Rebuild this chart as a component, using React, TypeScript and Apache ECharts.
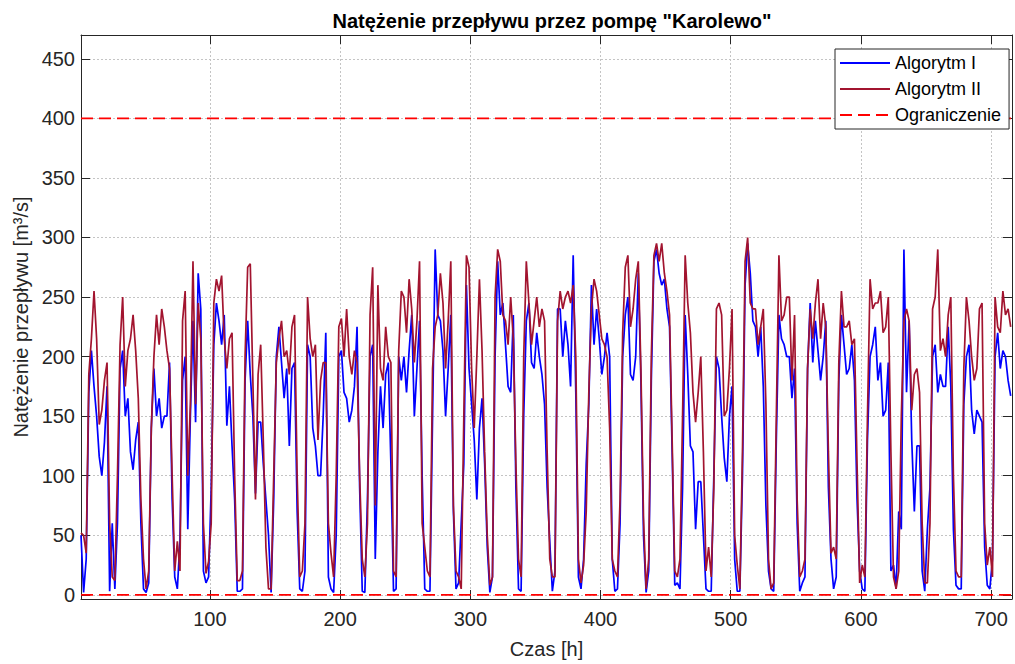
import React, { useEffect, useRef } from 'react';
import * as echarts from 'echarts';

const TITLE = 'Natężenie przepływu przez pompę "Karolewo"';
const X_NAME = 'Czas [h]';
const Y_NAME = 'Natężenie przepływu [m³/s]';
const SERIES_NAMES = ['Algorytm I', 'Algorytm II', 'Ograniczenie'];
const LIMIT_LEVELS = [400, 0];
const X_MIN = 1;
const X_MAX = 716;
const Y_MIN = -3.5;
const Y_MAX = 470;
const X_TICK_STEP = 100;
const Y_TICK_STEP = 50;
// time index of the samples: hour 1, 3, 5, ... 715
const HOUR_START = 1;
const HOUR_STEP = 2;

// Algorytm I [m3/s], read every 2 h
const algorytm1 = [
  50, 2, 30, 170, 205, 175, 150, 116, 100, 128, 175, 3, 60, 5, 60, 190, 205, 150, 165, 120, 105, 130, 145, 60, 5, 2, 10, 140, 190, 150, 165, 140, 150, 150, 195, 80, 15, 5, 45, 180, 200, 55, 150, 230, 145, 270, 240,
  20, 10, 15, 90, 210, 245, 230, 210, 235, 142, 175, 125, 80, 3, 3, 5, 180, 230, 185, 150, 85, 145, 145, 110, 80, 50, 2, 80, 200, 225, 195, 165, 190, 125, 190, 195, 70, 5, 3, 20, 210, 200, 140, 125,
  100, 100, 150, 220, 15, 5, 2, 50, 200, 205, 170, 165, 145, 155, 175, 225, 90, 3, 2, 80, 200, 210, 30, 120, 175, 140, 185, 195, 110, 3, 5, 200, 180, 200, 170, 205, 235, 150, 190, 230, 100, 5, 3, 3, 150, 290,
  235, 230, 205, 150, 190, 235, 70, 5, 10, 60, 110, 260, 190, 160, 130, 80, 140, 165, 110, 40, 2, 15, 200, 280, 235, 245, 210, 175, 170, 235, 90, 5, 3, 150, 230, 245, 195, 190, 220, 200, 185, 160, 90, 45, 3,
  20, 240, 240, 200, 230, 210, 175, 285, 170, 15, 5, 30, 110, 160, 260, 210, 240, 215, 185, 200, 220, 200, 30, 3, 5, 60, 200, 235, 250, 185, 180, 200, 270, 180, 50, 2, 20, 180, 280, 290, 270, 260, 265, 240, 225,
  120, 8, 10, 5, 90, 235, 185, 125, 120, 55, 95, 95, 50, 5, 3, 3, 100, 200, 190, 150, 115, 95, 150, 175, 30, 3, 3, 100, 260, 295, 270, 230, 225, 200, 225, 175, 75, 20, 5, 3, 130, 235, 215, 210, 200,
  200, 165, 190, 60, 3, 10, 15, 190, 245, 195, 230, 205, 180, 200, 230, 90, 30, 5, 15, 180, 235, 210, 185, 190, 210, 180, 80, 20, 5, 3, 130, 200, 210, 225, 180, 195, 150, 155, 195, 20, 25, 5, 70, 55, 290,
  170, 230, 130, 70, 125, 125, 20, 3, 55, 90, 200, 210, 170, 185, 175, 175, 225, 175, 55, 8, 5, 5, 160, 200, 210, 155, 135, 155, 150, 145, 40, 8, 5, 30, 200, 220, 190, 205, 200, 180, 167,
];

// Algorytm II [m3/s], read every 2 h
const algorytm2 = [
  52, 50, 35, 185, 215, 255, 215, 143, 155, 180, 195, 60, 15, 12, 100, 210, 250, 175, 205, 215, 235, 205, 165, 80, 30, 5, 20, 140, 200, 235, 210, 240, 225, 205, 190, 100, 20, 45, 20, 230, 255, 100, 160, 280, 160, 245, 215,
  60, 18, 28, 60, 245, 265, 255, 268, 215, 190, 215, 220, 100, 12, 12, 20, 200, 275, 278, 180, 80, 185, 210, 130, 40, 5, 5, 100, 195, 215, 230, 200, 205, 185, 225, 235, 100, 15, 20, 60, 250, 215, 200, 210,
  130, 180, 195, 195, 60, 35, 15, 100, 225, 232, 200, 240, 200, 185, 205, 195, 100, 30, 15, 60, 235, 275, 75, 260, 190, 180, 225, 200, 195, 20, 15, 205, 255, 250, 220, 265, 240, 195, 230, 280, 60, 40, 20, 15, 190, 225,
  235, 270, 245, 190, 230, 280, 75, 20, 15, 5, 150, 285, 275, 190, 140, 200, 265, 205, 120, 50, 8, 15, 250, 290, 280, 235, 230, 210, 250, 215, 110, 30, 15, 200, 280, 245, 210, 230, 250, 225, 240, 230, 120, 30, 15,
  15, 230, 255, 240, 250, 255, 245, 260, 200, 30, 10, 25, 70, 170, 240, 265, 255, 235, 215, 210, 200, 140, 30, 20, 15, 80, 220, 275, 285, 225, 240, 265, 280, 190, 65, 5, 30, 200, 285, 295, 280, 295, 270, 255, 235,
  130, 20, 15, 30, 150, 285, 245, 220, 170, 145, 170, 200, 120, 20, 40, 15, 90, 240, 245, 235, 150, 155, 190, 240, 50, 25, 5, 120, 280, 300, 245, 240, 240, 210, 225, 240, 160, 30, 5, 10, 150, 285, 230, 235, 250,
  250, 180, 235, 80, 15, 20, 30, 190, 240, 215, 245, 265, 215, 245, 225, 120, 35, 40, 30, 195, 255, 225, 225, 230, 210, 215, 110, 10, 25, 15, 150, 265, 240, 245, 245, 255, 220, 225, 250, 120, 15, 5, 20, 150, 230,
  240, 230, 155, 185, 190, 170, 60, 10, 10, 60, 240, 250, 290, 205, 215, 200, 235, 250, 100, 20, 15, 15, 190, 250, 230, 200, 180, 190, 240, 245, 60, 25, 40, 15, 250, 225, 220, 255, 235, 240, 225,
];

const FONT = 'Liberation Sans, Arial, Helvetica, sans-serif';
const AXIS_COLOR = '#262626';

function toPairs(vals: number[]) {
  return vals.map((v, i) => [HOUR_START + i * HOUR_STEP, v]);
}

export default function App() {
  const ref = useRef<HTMLDivElement>(null);

  useEffect(() => {
    if (!ref.current) return;
    const chart = echarts.init(ref.current, undefined, { renderer: 'svg' });

    const baseX = {
      type: 'value',
      min: X_MIN,
      max: X_MAX,
      splitNumber: 7,
      minInterval: X_TICK_STEP,
      maxInterval: X_TICK_STEP,
      axisLine: { show: true, onZero: false, lineStyle: { color: AXIS_COLOR, width: 1 } },
      axisTick: { show: true, inside: true, length: 9, lineStyle: { color: AXIS_COLOR, width: 1 } },
    };
    const baseY = {
      type: 'value',
      min: Y_MIN,
      max: Y_MAX,
      splitNumber: 9,
      minInterval: Y_TICK_STEP,
      maxInterval: Y_TICK_STEP,
      axisLine: { show: true, onZero: false, lineStyle: { color: AXIS_COLOR, width: 1 } },
      axisTick: { show: true, inside: true, length: 9, lineStyle: { color: AXIS_COLOR, width: 1 } },
    };
    const gridLine = { show: true, lineStyle: { color: '#c4c4c4', width: 1, type: [2, 2] } };

    const limitSeries = LIMIT_LEVELS.map((lvl) => ({
      name: SERIES_NAMES[2],
      type: 'line',
      data: [[X_MIN, lvl], [X_MAX, lvl]],
      symbol: 'none',
      showSymbol: false,
      lineStyle: { color: '#ff0000', width: 1.6, type: [12, 6] },
      itemStyle: { color: '#ff0000' },
      z: 5,
    }));

    chart.setOption({
      animation: false,
      backgroundColor: '#ffffff',
      title: {
        text: TITLE,
        left: 547,
        top: 6,
        textAlign: 'center',
        textStyle: { fontFamily: FONT, fontSize: 20, fontWeight: 'bold', color: '#000' },
      },
      grid: { left: 81, right: 1, top: 35, bottom: 64, containLabel: false },
      legend: {
        data: SERIES_NAMES,
        orient: 'vertical',
        left: 835,
        top: 49,
        backgroundColor: '#ffffff',
        borderColor: AXIS_COLOR,
        borderWidth: 1,
        borderRadius: 0,
        padding: [5, 8, 5, 4],
        itemWidth: 50,
        itemHeight: 12,
        itemGap: 8,
        itemStyle: { opacity: 0, borderWidth: 0 },
        textStyle: { fontFamily: FONT, fontSize: 18, color: '#000' },
        z: 10,
      },
      xAxis: [
        {
          ...baseX,
          position: 'bottom',
          name: X_NAME,
          nameLocation: 'middle',
          nameGap: 40,
          nameTextStyle: { fontFamily: FONT, fontSize: 20, color: AXIS_COLOR },
          axisLabel: {
            margin: 10,
            fontFamily: FONT,
            fontSize: 20,
            color: AXIS_COLOR,
            formatter: (v: number) => (v % X_TICK_STEP === 0 ? String(v) : ''),
          },
          splitLine: gridLine,
        },
        {
          ...baseX,
          position: 'top',
          axisLabel: { show: false },
          splitLine: { show: false },
        },
      ],
      yAxis: [
        {
          ...baseY,
          position: 'left',
          name: Y_NAME,
          nameLocation: 'middle',
          nameGap: 44,
          nameTextStyle: { fontFamily: FONT, fontSize: 20, color: AXIS_COLOR },
          axisLabel: {
            margin: 6,
            fontFamily: FONT,
            fontSize: 20,
            color: AXIS_COLOR,
            formatter: (v: number) => (v % Y_TICK_STEP === 0 ? String(v) : ''),
          },
          splitLine: gridLine,
        },
        {
          ...baseY,
          position: 'right',
          axisLabel: { show: false },
          splitLine: { show: false },
        },
      ],
      series: [
        {
          name: SERIES_NAMES[0],
          type: 'line',
          data: toPairs(algorytm1),
          symbol: 'none',
          showSymbol: false,
          lineStyle: { color: '#0000ff', width: 1.7 },
          itemStyle: { color: '#0000ff' },
          z: 2,
        },
        {
          name: SERIES_NAMES[1],
          type: 'line',
          data: toPairs(algorytm2),
          symbol: 'none',
          showSymbol: false,
          lineStyle: { color: '#a2142f', width: 1.7 },
          itemStyle: { color: '#a2142f' },
          z: 3,
        },
        ...limitSeries,
      ],
    });

    return () => chart.dispose();
  }, []);

  return (
    <div
      ref={ref}
      style={{ position: 'fixed', left: 0, top: 0, width: 1015, height: 664, background: '#fff' }}
    />
  );
}
